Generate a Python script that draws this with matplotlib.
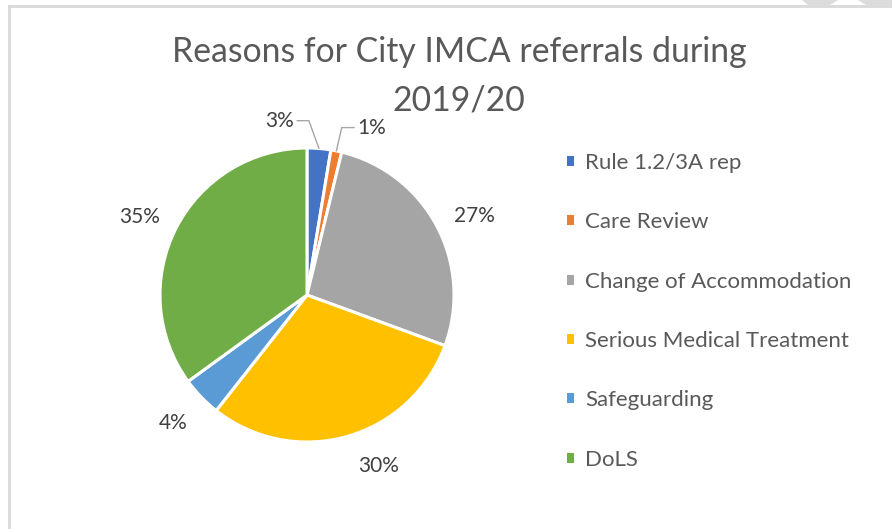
import matplotlib.pyplot as plt
from matplotlib.patches import Patch, Polygon
from matplotlib.lines import Line2D
import numpy as np

plt.rcParams['font.family'] = ['Lato', 'DejaVu Sans']

# data
reasons = ['Rule 1.2/3A rep', 'Care Review', 'Change of Accommodation',
           'Serious Medical Treatment', 'Safeguarding', 'DoLS']
shares = [2.6, 1.2, 26.8, 30.0, 4.4, 35.0]
colours = ['#4472C4', '#ED7D31', '#A5A5A5', '#FFC000', '#5B9BD5', '#70AD47']

W, H = 892, 529
fig = plt.figure(figsize=(W / 100, H / 100), dpi=100)

# pie axes, centre (307, 295) px, radius 147 px
cx, cy, r = 307, 295, 147
ax = fig.add_axes([(cx - r) / W, 1 - (cy + r) / H, 2 * r / W, 2 * r / H])
wedges, _ = ax.pie(shares, colors=colours, startangle=90, counterclock=False,
                   wedgeprops=dict(edgecolor='white', linewidth=2.2))
ax.set_xlim(-1, 1)
ax.set_ylim(-1, 1)

# data labels (Excel "best fit" look)
nudge = [0, 0, -3, 7, 0, 2]
leader = {0: (98.8, 1.2, 110), 1: (69, 1.22, 77)}
for i, (w, v) in enumerate(zip(wedges, shares)):
    mid = np.deg2rad((w.theta1 + w.theta2) / 2)
    txt = f'{v:.0f}%'
    if i in leader:
        ang, dist, angB = leader[i]
        a = np.deg2rad(ang)
        ax.annotate(txt, xy=(np.cos(mid), np.sin(mid)),
                    xytext=(dist * np.cos(a), dist * np.sin(a)),
                    ha='center', va='center', fontsize=15, color='#404040',
                    annotation_clip=False,
                    arrowprops=dict(arrowstyle='-', color='#A6A6A6', lw=1,
                                    shrinkA=0, shrinkB=0,
                                    connectionstyle=f'angle,angleA=0,angleB={angB},rad=0'))
    else:
        a = mid + np.deg2rad(nudge[i])
        ax.text(1.26 * np.cos(a), 1.26 * np.sin(a), txt, ha='center', va='center',
                fontsize=15, color='#404040', clip_on=False)

# title
fig.text(459 / W, 1 - 62 / H, 'Reasons for City IMCA referrals during',
         ha='center', va='baseline', fontsize=24.3, color='#595959')
fig.text(459 / W, 1 - 110 / H, '2019/20',
         ha='center', va='baseline', fontsize=24.3, color='#595959')

# legend
handles = [Patch(facecolor=c, edgecolor='none') for c in colours]
leg = fig.legend(handles, reasons, loc='upper left',
                 bbox_to_anchor=(567 / W, 1 - 153 / H), frameon=False,
                 fontsize=16, handlelength=0.32, handleheight=0.32,
                 handletextpad=0.5, labelspacing=1.77,
                 borderpad=0, borderaxespad=0)
for t in leg.get_texts():
    t.set_color('#595959')

# chart area border and page bits at the top right
bc = '#D9D9D9'
fig.add_artist(Line2D([9 / W, 9 / W], [0, 1 - 6 / H], transform=fig.transFigure,
                      color=bc, lw=2))
fig.add_artist(Line2D([9 / W, 1], [1 - 6 / H, 1 - 6 / H], transform=fig.transFigure,
                      color=bc, lw=2))
for pts in ([(802, 0), (838, 0), (830, 5), (808, 5)],
            [(858, 0), (892, 0), (892, 5), (866, 5)]):
    fig.add_artist(Polygon([(x / W, 1 - y / H) for x, y in pts],
                           transform=fig.transFigure, color='#DCDCDC', lw=0))

fig.savefig('out.png', dpi=100)
